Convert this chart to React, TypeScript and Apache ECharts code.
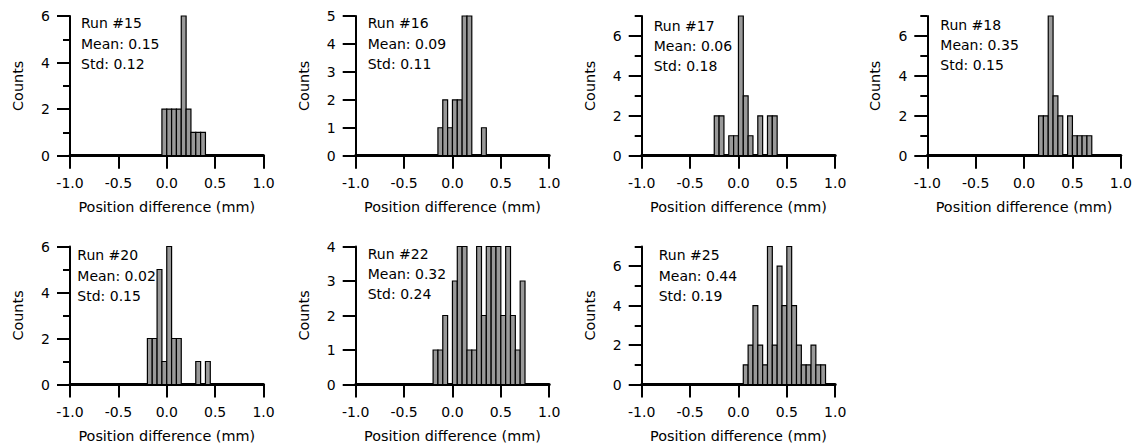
import React, { useEffect, useRef } from "react";
import * as echarts from "echarts";

// ---- data ----
const BIN = 0.05;
const runIds = [15, 16, 17, 18, 20, 22, 25];
const means = [0.15, 0.09, 0.06, 0.35, 0.02, 0.32, 0.44];
const stds = [0.12, 0.11, 0.18, 0.15, 0.15, 0.24, 0.19];
const yMaxes = [6, 5, 7, 7, 6, 4, 7];
const yMajorTicks = [
  [0, 2, 4, 6],
  [0, 1, 2, 3, 4, 5],
  [0, 2, 4, 6],
  [0, 2, 4, 6],
  [0, 2, 4, 6],
  [0, 1, 2, 3, 4],
  [0, 2, 4, 6],
];
const yMinorTicks = [[1, 3, 5], [], [1, 3, 5, 7], [1, 3, 5, 7], [1, 3, 5], [], [1, 3, 5, 7]];
const xTickValues = [-1.0, -0.5, 0.0, 0.5, 1.0];

const run15Edges = [-0.05, 0, 0.05, 0.1, 0.15, 0.2, 0.25, 0.3, 0.35];
const run15Counts = [2, 2, 2, 2, 6, 2, 1, 1, 1];
const run16Edges = [-0.15, -0.1, -0.05, 0, 0.05, 0.1, 0.15, 0.3];
const run16Counts = [1, 2, 1, 2, 2, 5, 5, 1];
const run17Edges = [-0.25, -0.2, -0.1, -0.05, 0, 0.05, 0.1, 0.2, 0.3, 0.35];
const run17Counts = [2, 2, 1, 1, 7, 3, 1, 2, 2, 2];
const run18Edges = [0.15, 0.2, 0.25, 0.3, 0.35, 0.45, 0.5, 0.55, 0.6, 0.65];
const run18Counts = [2, 2, 7, 3, 2, 2, 1, 1, 1, 1];
const run20Edges = [-0.2, -0.15, -0.1, -0.05, 0, 0.05, 0.1, 0.3, 0.4];
const run20Counts = [2, 2, 5, 1, 6, 2, 2, 1, 1];
const run22Edges = [-0.2, -0.15, -0.1, 0, 0.05, 0.1, 0.15, 0.2, 0.25, 0.3, 0.35, 0.4, 0.45, 0.5, 0.55, 0.6, 0.65, 0.7];
const run22Counts = [1, 1, 2, 3, 4, 4, 1, 1, 4, 2, 4, 4, 4, 2, 4, 2, 1, 3];
const run25Edges = [0.05, 0.1, 0.15, 0.2, 0.25, 0.3, 0.35, 0.4, 0.45, 0.5, 0.55, 0.6, 0.65, 0.7, 0.75, 0.8, 0.85];
const run25Counts = [1, 2, 4, 2, 1, 7, 2, 6, 4, 7, 4, 2, 1, 1, 2, 1, 1];

const allEdges = [run15Edges, run16Edges, run17Edges, run18Edges, run20Edges, run22Edges, run25Edges];
const allCounts = [run15Counts, run16Counts, run17Counts, run18Counts, run20Counts, run22Counts, run25Counts];

// ---- layout ----
const gridLefts = [70, 355.7, 641.7, 927.3, 70, 355.7, 641.7];
const gridTops = [16, 16, 16, 16, 246.5, 246.5, 246.5];
const gridHeights = [139.7, 139.7, 139.7, 139.7, 138, 138, 138];
const gridWidth = 193.5;
const textDx = [11, 12, 12, 13, 7.3, 12, 17];
const textDy = [6.7, 6.7, 9, 8, 8.2, 6.5, 8.2];

const FONT = '"DejaVu Sans", sans-serif';

export default function App() {
  const ref = useRef<HTMLDivElement>(null);
  useEffect(() => {
    if (!ref.current) return;
    const chart = echarts.init(ref.current, null, { renderer: "svg" });
    const grid: any[] = [];
    const xAxis: any[] = [];
    const yAxis: any[] = [];
    const series: any[] = [];
    const graphic: any[] = [];
    runIds.forEach((run, i) => {
      grid.push({ left: gridLefts[i], top: gridTops[i], width: gridWidth, height: gridHeights[i], containLabel: false });
      xAxis.push({
        type: "value",
        gridIndex: i,
        min: -1,
        max: 1,
        interval: 0.5,
        name: "Position difference (mm)",
        nameLocation: "middle",
        nameGap: 44,
        nameTextStyle: { fontFamily: FONT, fontSize: 14.4, color: "#000" },
        axisLine: { show: true, onZero: false, lineStyle: { color: "#000", width: 3 } },
        axisTick: { show: true, length: 13, lineStyle: { color: "#000", width: 2 }, customValues: xTickValues },
        axisLabel: {
          fontFamily: FONT,
          fontSize: 14,
          color: "#000",
          margin: 20,
          customValues: xTickValues,
          formatter: (v: number) => v.toFixed(1),
        },
        splitLine: { show: false },
      });
      yAxis.push({
        type: "value",
        gridIndex: i,
        position: "left",
        offset: 0,
        min: 0,
        max: yMaxes[i],
        name: "Counts",
        nameLocation: "middle",
        nameGap: 45,
        nameRotate: 90,
        nameTextStyle: { fontFamily: FONT, fontSize: 14.4, color: "#000" },
        axisLine: { show: true, onZero: false, lineStyle: { color: "#000", width: 2 } },
        axisTick: { show: true, length: 13, lineStyle: { color: "#000", width: 2 }, customValues: yMajorTicks[i] },
        axisLabel: { fontFamily: FONT, fontSize: 14, color: "#000", margin: 20, customValues: yMajorTicks[i] },
        splitLine: { show: false },
      });
      const minors = yMinorTicks[i];
      yAxis.push({
        type: "value",
        gridIndex: i,
        position: "left",
        offset: 0,
        min: 0,
        max: yMaxes[i],
        axisLine: { show: false, onZero: false },
        axisTick: {
          show: minors.length > 0,
          length: 7,
          lineStyle: { color: "#000", width: 2 },
          customValues: minors.length > 0 ? minors : undefined,
        },
        axisLabel: { show: false },
        splitLine: { show: false },
      });
      const data = allEdges[i].map((e, k) => [e, e + BIN, allCounts[i][k]]);
      series.push({
        type: "custom",
        xAxisIndex: i,
        yAxisIndex: 2 * i,
        clip: false,
        z: 3,
        encode: { x: [0, 1], y: 2 },
        data,
        renderItem: (params: any, api: any) => {
          const p0 = api.coord([api.value(0), api.value(2)]);
          const p1 = api.coord([api.value(1), 0]);
          return {
            type: "rect",
            shape: { x: p0[0], y: p0[1], width: p1[0] - p0[0], height: p1[1] - p0[1] },
            style: { fill: "#999999", stroke: "#000", lineWidth: 1.2 },
          };
        },
      });
      graphic.push({
        type: "text",
        left: gridLefts[i] + textDx[i],
        top: gridTops[i] + textDy[i] - 9.5,
        style: {
          text: `Run #${run}\nMean: ${means[i].toFixed(2)}\nStd: ${stds[i].toFixed(2)}`,
          font: `14px ${FONT}`,
          fill: "#000",
          lineHeight: 20.3,
        },
      });
    });
    chart.setOption({
      animation: false,
      backgroundColor: "#fff",
      grid,
      xAxis,
      yAxis,
      series,
      graphic,
    });
    return () => chart.dispose();
  }, []);
  return <div ref={ref} style={{ position: "fixed", left: 0, top: 0, width: 1139, height: 448 }} />;
}
